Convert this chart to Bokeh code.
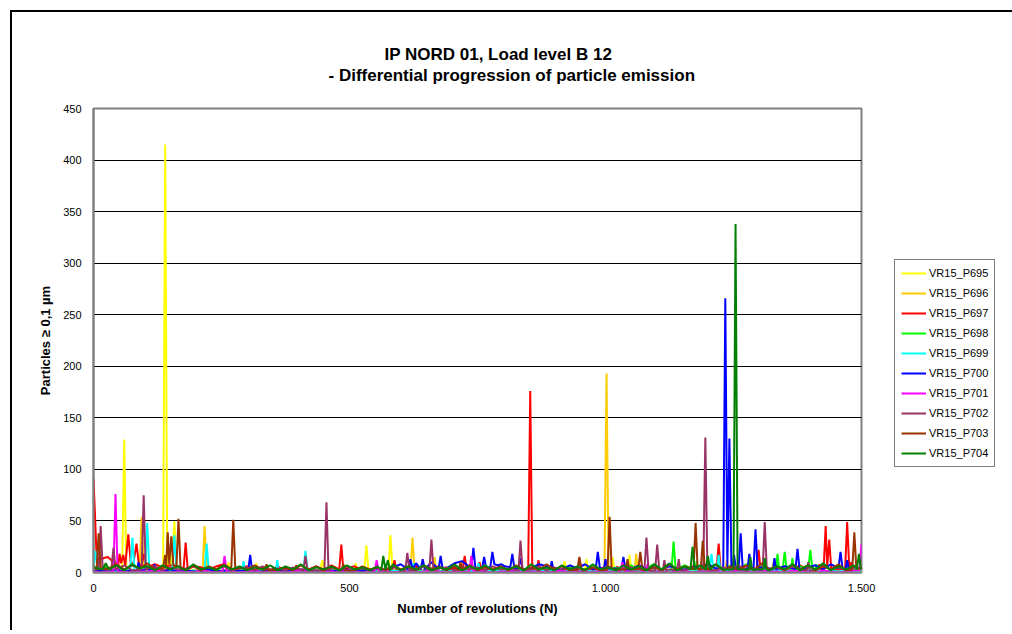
from bokeh.plotting import figure
from bokeh.models import Legend, LegendItem, Title, FixedTicker
from bokeh.embed import file_html
from bokeh.resources import INLINE

FONT = "Liberation Sans"

title_lines = ["IP NORD 01, Load level B 12", "- Differential progression of particle emission"]
x_label = "Number of revolutions (N)"
y_label = "Particles \u2265 0,1 \u00b5m"
x_ticks = [0, 500, 1000, 1500]
x_tick_labels = ["0", "500", "1.000", "1.500"]
y_ticks = [0, 50, 100, 150, 200, 250, 300, 350, 400, 450]

series_names = ["VR15_P695", "VR15_P696", "VR15_P697", "VR15_P698", "VR15_P699",
                "VR15_P700", "VR15_P701", "VR15_P702", "VR15_P703", "VR15_P704"]
series_colors = ["#FFFF00", "#FFCC00", "#FF0000", "#00FF00", "#00FFFF",
                 "#0000FF", "#FF00FF", "#993366", "#993300", "#008000"]

# low background readings, one every 15 revolutions (0 ... 1500)
base_revs = list(range(0, 1501, 15))

base_p695 = [1, 2, 1, 3, 2, 1, 2, 4, 1, 2, 3, 1, 2, 1, 3, 2, 1, 2, 1, 3,
             2, 1, 2, 1, 1, 3, 2, 1, 2, 1, 2, 3, 1, 2, 1, 2, 1, 3, 2, 1,
             2, 1, 3, 1, 2, 1, 2, 1, 3, 2, 1, 2, 1, 2, 3, 1, 2, 1, 2, 1,
             3, 2, 1, 2, 1, 2, 3, 1, 2, 1, 2, 1, 3, 2, 1, 2, 1, 4, 2, 1,
             2, 3, 1, 2, 1, 2, 1, 3, 2, 1, 2, 1, 2, 3, 1, 2, 1, 2, 1, 3, 2]
base_p696 = [2, 1, 2, 1, 3, 1, 2, 1, 2, 3, 1, 2, 1, 2, 1, 3, 2, 1, 2, 1,
             1, 2, 3, 1, 2, 1, 2, 1, 2, 3, 1, 2, 1, 1, 2, 3, 1, 2, 1, 2,
             3, 1, 2, 1, 2, 1, 3, 2, 1, 2, 1, 3, 2, 1, 2, 1, 2, 1, 3, 1,
             2, 1, 2, 3, 1, 2, 1, 2, 1, 3, 2, 1, 2, 1, 3, 2, 1, 2, 1, 2,
             3, 1, 2, 1, 2, 1, 3, 2, 1, 2, 1, 2, 1, 3, 2, 1, 2, 1, 3, 2, 1]
base_p697 = [60, 12, 14, 9, 8, 7, 9, 6, 8, 5, 7, 6, 4, 6, 5, 3, 6, 8, 3, 5,
             6, 3, 5, 2, 6, 3, 5, 3, 2, 6, 3, 7, 2, 4, 6, 2, 3, 5, 2, 4,
             2, 5, 3, 2, 4, 6, 2, 4, 2, 5, 4, 2, 3, 6, 2, 4, 2, 5, 3, 2,
             4, 2, 5, 2, 3, 2, 4, 6, 2, 3, 2, 4, 2, 5, 3, 2, 4, 2, 6, 3,
             5, 3, 7, 2, 4, 6, 3, 5, 2, 4, 6, 3, 7, 2, 5, 3, 6, 3, 5, 3, 4]
base_p698 = [1, 2, 3, 1, 2, 1, 1, 2, 1, 1, 2, 1, 1, 2, 1, 1, 2, 1, 1, 2,
             1, 1, 2, 1, 1, 2, 1, 2, 1, 1, 2, 1, 1, 2, 1, 3, 1, 1, 2, 1,
             3, 1, 1, 2, 4, 1, 2, 1, 3, 1, 4, 2, 1, 3, 1, 4, 2, 1, 3, 4,
             1, 3, 5, 1, 3, 6, 2, 1, 5, 2, 7, 2, 4, 8, 2, 5, 2, 7, 3, 2,
             6, 3, 2, 7, 3, 8, 2, 6, 3, 2, 8, 3, 6, 2, 4, 9, 2, 6, 3, 2, 5]
base_p699 = [3, 2, 3, 1, 2, 4, 2, 1, 2, 1, 3, 1, 2, 1, 2, 1, 2, 1, 3, 1,
             2, 1, 1, 2, 1, 2, 1, 3, 1, 2, 1, 2, 1, 1, 2, 1, 2, 1, 1, 2,
             1, 2, 3, 1, 2, 1, 1, 2, 1, 2, 1, 2, 1, 2, 1, 1, 2, 1, 2, 1,
             2, 1, 2, 1, 2, 1, 2, 3, 1, 2, 1, 2, 1, 2, 1, 2, 1, 2, 3, 2,
             4, 2, 1, 2, 1, 2, 1, 3, 1, 2, 1, 2, 1, 2, 3, 1, 2, 1, 2, 1, 2]
base_p700 = [1, 2, 1, 3, 1, 2, 1, 4, 2, 1, 3, 1, 2, 1, 1, 3, 1, 2, 1, 2,
             1, 3, 1, 2, 1, 2, 1, 3, 1, 2, 1, 2, 1, 3, 1, 2, 1, 4, 3, 5,
             8, 4, 9, 5, 10, 6, 4, 9, 11, 5, 8, 10, 4, 9, 6, 11, 7, 4, 8, 6,
             5, 3, 7, 4, 8, 3, 5, 9, 4, 6, 3, 7, 4, 5, 3, 6, 4, 3, 5, 6,
             8, 4, 9, 5, 7, 4, 10, 5, 4, 8, 6, 4, 9, 5, 7, 3, 8, 4, 6, 5, 4]
base_p701 = [1, 0, 1, 2, 1, 0, 1, 1, 2, 1, 0, 1, 1, 0, 2, 1, 0, 1, 1, 0,
             1, 2, 0, 1, 1, 0, 1, 2, 1, 0, 1, 1, 0, 2, 1, 0, 1, 1, 2, 0,
             1, 1, 0, 1, 2, 1, 0, 1, 1, 0, 2, 1, 0, 1, 1, 2, 0, 1, 1, 0,
             1, 2, 0, 1, 1, 0, 2, 1, 0, 1, 1, 0, 2, 1, 1, 0, 1, 2, 0, 1,
             1, 2, 0, 1, 2, 1, 0, 2, 1, 1, 0, 2, 1, 1, 0, 2, 1, 0, 1, 2, 1]
base_p702 = [4, 2, 6, 3, 7, 2, 5, 3, 6, 2, 5, 3, 4, 6, 2, 5, 3, 6, 2, 4,
             5, 2, 6, 3, 4, 2, 5, 3, 6, 2, 4, 5, 2, 6, 3, 4, 2, 5, 3, 6,
             2, 5, 3, 6, 2, 4, 5, 2, 6, 3, 5, 2, 6, 3, 4, 2, 5, 3, 6, 2,
             5, 3, 4, 6, 2, 5, 3, 6, 2, 4, 5, 3, 6, 2, 5, 3, 7, 2, 5, 3,
             6, 2, 5, 3, 7, 2, 4, 6, 3, 5, 2, 6, 3, 5, 2, 7, 3, 5, 2, 6, 3]
base_p703 = [6, 9, 4, 8, 3, 7, 4, 9, 3, 8, 4, 6, 3, 7, 2, 6, 3, 8, 2, 5,
             3, 7, 2, 6, 3, 5, 2, 7, 3, 6, 2, 5, 3, 7, 2, 6, 3, 5, 2, 7,
             3, 6, 2, 7, 3, 5, 2, 6, 3, 7, 2, 5, 3, 6, 2, 7, 3, 5, 2, 8,
             3, 6, 2, 7, 3, 5, 2, 8, 3, 6, 2, 7, 3, 5, 2, 8, 3, 6, 2, 7,
             3, 8, 2, 6, 3, 7, 2, 9, 3, 6, 2, 8, 3, 7, 2, 6, 3, 8, 2, 7, 5]
base_p704 = [5, 9, 3, 7, 2, 8, 4, 6, 2, 7, 3, 6, 2, 8, 3, 5, 2, 7, 3, 6,
             2, 5, 3, 7, 2, 6, 3, 8, 2, 5, 3, 6, 2, 7, 3, 5, 2, 6, 3, 8,
             2, 6, 3, 7, 2, 5, 3, 8, 2, 6, 3, 7, 2, 5, 3, 6, 2, 8, 3, 5,
             2, 7, 3, 6, 2, 8, 3, 5, 2, 7, 3, 6, 2, 8, 3, 9, 2, 6, 3, 7,
             2, 8, 3, 6, 2, 9, 3, 7, 2, 6, 3, 8, 2, 7, 3, 9, 2, 6, 3, 7, 4]

# readings around the emission peaks: (revolutions, particles)
peaks_p695 = [(56, 2), (60, 129), (64, 2), (136, 3), (140, 415), (144, 3), (147, 3), (150, 17), (153, 4),
              (158, 50), (162, 3), (261, 2), (264, 10), (267, 2), (315, 2), (318, 9), (321, 1),
              (443, 2), (447, 12), (451, 2), (509, 2), (512, 9), (515, 1), (529, 3), (533, 26), (537, 2),
              (576, 3), (580, 36), (584, 2), (917, 2), (920, 11), (923, 2), (960, 2), (963, 13), (966, 2),
              (1011, 3), (1014, 15), (1017, 2), (1044, 3), (1047, 17), (1050, 2), (1325, 2), (1328, 10), (1331, 2)]
peaks_p696 = [(90, 3), (94, 54), (98, 2), (213, 2), (217, 45), (221, 2), (619, 3), (623, 34), (627, 2),
              (663, 2), (666, 15), (669, 2), (998, 3), (1002, 193), (1006, 3), (1057, 2), (1060, 18), (1063, 2),
              (1234, 2), (1237, 12), (1240, 2)]
peaks_p697 = [(0, 91), (3, 55), (6, 15), (12, 12), (20, 14), (28, 15), (35, 12), (40, 8), (45, 10), (48, 6),
              (51, 18), (54, 9), (58, 17), (62, 7), (68, 37), (73, 8), (78, 9), (84, 28), (89, 6), (94, 8),
              (99, 18), (104, 5), (176, 4), (180, 29), (184, 3), (372, 2), (375, 6), (378, 2),
              (393, 2), (396, 7), (399, 2), (480, 3), (484, 27), (488, 2), (584, 3), (588, 12), (591, 2),
              (628, 2), (631, 8), (634, 2), (721, 3), (725, 16), (729, 2), (751, 2), (754, 10), (757, 2),
              (849, 3), (853, 176), (857, 3), (866, 2), (869, 12), (872, 2), (1020, 2), (1023, 6), (1026, 2),
              (1217, 3), (1221, 28), (1225, 2), (1295, 3), (1299, 22), (1303, 2), (1415, 2), (1418, 8), (1421, 2),
              (1426, 3), (1430, 45), (1433, 6), (1437, 32), (1441, 2), (1468, 3), (1472, 49), (1476, 5),
              (1479, 10), (1483, 2), (1497, 3), (1500, 6)]
peaks_p698 = [(18, 2), (22, 8), (26, 2), (1129, 3), (1133, 30), (1137, 3), (1175, 2), (1178, 11), (1181, 2),
              (1333, 3), (1336, 18), (1339, 3), (1346, 3), (1350, 20), (1354, 3), (1362, 2), (1365, 14), (1368, 2),
              (1396, 3), (1400, 22), (1404, 3), (1409, 2), (1412, 8), (1415, 2)]
peaks_p699 = [(0, 5), (4, 21), (8, 3), (72, 3), (76, 34), (80, 3), (101, 3), (105, 48), (109, 3),
              (154, 3), (158, 36), (162, 3), (217, 3), (221, 28), (225, 2), (290, 1), (293, 11), (296, 1),
              (356, 1), (359, 12), (362, 1), (410, 2), (414, 21), (418, 2), (622, 1), (625, 9), (628, 1),
              (749, 1), (752, 9), (755, 1), (1203, 3), (1207, 18), (1211, 3), (1218, 3), (1221, 17), (1224, 2)]
peaks_p700 = [(85, 1), (88, 10), (91, 1), (116, 1), (119, 8), (122, 1), (302, 1), (306, 17), (310, 1),
              (615, 3), (619, 13), (623, 3), (639, 3), (643, 13), (647, 3), (674, 3), (678, 16), (682, 3),
              (738, 4), (742, 24), (746, 4), (759, 4), (763, 15), (767, 4), (775, 5), (779, 20), (783, 8),
              (790, 7), (797, 8), (803, 6), (814, 5), (818, 18), (822, 4), (830, 4), (834, 14), (838, 3),
              (892, 3), (895, 11), (898, 3), (981, 4), (985, 20), (989, 4), (997, 4), (1000, 13), (1003, 4),
              (1031, 3), (1035, 15), (1039, 3), (1230, 4), (1234, 266), (1238, 5), (1242, 130), (1246, 4),
              (1249, 4), (1251, 17), (1255, 3), (1260, 4), (1264, 38), (1268, 4), (1277, 3), (1281, 18), (1285, 3),
              (1289, 4), (1293, 42), (1297, 4), (1327, 3), (1330, 14), (1333, 3), (1371, 3), (1375, 23), (1379, 3),
              (1455, 4), (1459, 20), (1463, 4), (1469, 3), (1472, 12), (1475, 3)]
peaks_p701 = [(39, 1), (43, 76), (47, 1), (252, 1), (256, 16), (260, 1), (549, 1), (553, 12), (557, 1),
              (734, 1), (738, 16), (742, 1), (1029, 1), (1033, 10), (1037, 1), (1079, 1), (1082, 8), (1085, 1),
              (1496, 2), (1500, 28)]
peaks_p702 = [(10, 3), (14, 45), (18, 3), (35, 3), (39, 24), (43, 3), (94, 3), (98, 75), (102, 3),
              (410, 2), (414, 16), (418, 2), (451, 2), (455, 68), (459, 2), (609, 2), (613, 19), (617, 2),
              (656, 2), (660, 32), (664, 2), (830, 2), (834, 31), (838, 2), (946, 2), (950, 10), (954, 2),
              (1076, 2), (1080, 34), (1084, 2), (1097, 2), (1101, 27), (1105, 2), (1112, 2), (1115, 12), (1118, 2),
              (1140, 2), (1143, 13), (1146, 2), (1191, 3), (1195, 131), (1199, 3), (1307, 3), (1311, 49), (1315, 3),
              (1393, 2), (1396, 10), (1399, 2)]
peaks_p703 = [(6, 3), (10, 38), (14, 4), (136, 4), (140, 17), (142, 6), (145, 39), (148, 8), (152, 35),
              (156, 7), (162, 6), (166, 52), (170, 4), (269, 3), (273, 51), (277, 3), (334, 2), (338, 8), (342, 2),
              (484, 2), (488, 8), (492, 2), (713, 2), (717, 10), (721, 2), (945, 3), (949, 15), (953, 3),
              (1004, 3), (1008, 54), (1012, 3), (1040, 3), (1043, 13), (1046, 3), (1064, 3), (1068, 20), (1072, 3),
              (1172, 3), (1176, 48), (1180, 3), (1186, 3), (1190, 31), (1194, 3), (1482, 3), (1486, 39), (1490, 3)]
peaks_p704 = [(18, 3), (24, 9), (30, 3), (562, 2), (566, 16), (570, 3), (575, 12), (579, 2),
              (1166, 3), (1170, 25), (1174, 3), (1196, 3), (1200, 16), (1204, 3), (1250, 3), (1254, 338), (1258, 3),
              (1280, 3), (1283, 15), (1286, 3), (1308, 3), (1311, 14), (1314, 3), (1491, 3), (1495, 18), (1499, 3)]

bases = [base_p695, base_p696, base_p697, base_p698, base_p699,
         base_p700, base_p701, base_p702, base_p703, base_p704]
peaks = [peaks_p695, peaks_p696, peaks_p697, peaks_p698, peaks_p699,
         peaks_p700, peaks_p701, peaks_p702, peaks_p703, peaks_p704]


def merge(base, pk):
    pk_x = [n for n, _ in pk]
    pts = [(n, v) for n, v in zip(base_revs, base) if all(abs(n - q) > 5 for q in pk_x)]
    pts += list(pk)
    pts.sort()
    return [n for n, _ in pts], [v for _, v in pts]


p = figure(frame_width=768, frame_height=464, x_range=(0, 1500), y_range=(0, 450),
           output_backend="svg", toolbar_location=None,
           min_border_left=81, min_border_top=96, min_border_right=149, min_border_bottom=60)
p.styles = {"margin-left": "12px", "margin-top": "12px", "box-shadow": "-2px -2px 0 0 #000000"}

p.background_fill_color = "white"
p.border_fill_color = "white"
p.outline_line_color = "#808080"
p.outline_line_width = 2

p.xgrid.visible = False
p.ygrid.grid_line_color = "black"
p.ygrid.grid_line_width = 1

p.xaxis.ticker = FixedTicker(ticks=x_ticks)
p.xaxis.major_label_overrides = {t: s for t, s in zip(x_ticks, x_tick_labels)}
p.yaxis.ticker = FixedTicker(ticks=y_ticks)
p.ygrid.ticker = FixedTicker(ticks=y_ticks)

for ax in (p.xaxis[0], p.yaxis[0]):
    ax.axis_line_color = "#808080"
    ax.axis_line_width = 2
    ax.major_tick_line_color = None
    ax.minor_tick_line_color = None
    ax.major_tick_out = 0
    ax.major_tick_in = 0
    ax.major_label_text_font = FONT
    ax.major_label_text_font_size = "11px"
    ax.major_label_text_color = "black"
    ax.axis_label_text_font = FONT
    ax.axis_label_text_font_size = "13px"
    ax.axis_label_text_font_style = "bold"
    ax.axis_label_text_color = "black"

p.xaxis.axis_label = x_label
p.yaxis.axis_label = y_label
p.xaxis.major_label_standoff = 11
p.xaxis.axis_label_standoff = 6
p.yaxis.major_label_standoff = 12
p.yaxis.axis_label_standoff = 7

items = []
for name, color, base, pk in zip(series_names, series_colors, bases, peaks):
    xs, ys = merge(base, pk)
    r = p.line(xs, ys, line_color=color, line_width=2)
    items.append(LegendItem(label=name, renderers=[r]))

legend = Legend(items=items, location=(33, 105), orientation="vertical",
                border_line_color="black", border_line_width=1,
                background_fill_color="white", background_fill_alpha=1.0,
                padding=6, spacing=6, margin=17,
                glyph_width=25, glyph_height=14, label_height=14, label_standoff=3,
                label_text_font=FONT, label_text_font_size="11px", label_text_color="black")
p.add_layout(legend, "right")

p.title = None
# empty spacer keeps the two title lines clear of the plot area
p.add_layout(Title(text=" ", align="left", standoff=0, text_font=FONT, text_font_size="20px"), "above")
p.add_layout(Title(text=title_lines[1], align="left", offset=235, standoff=0,
                   text_font=FONT, text_font_size="17px", text_font_style="bold",
                   text_color="black"), "above")
p.add_layout(Title(text=title_lines[0], align="left", offset=291, standoff=0,
                   text_font=FONT, text_font_size="17px", text_font_style="bold",
                   text_color="black"), "above")

open("out.html", "w").write(file_html(p, INLINE))
